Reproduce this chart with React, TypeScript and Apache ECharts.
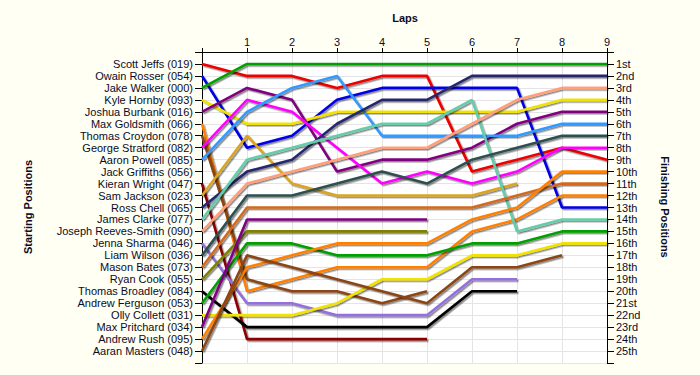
import React, { useEffect, useRef } from "react";
import * as echarts from "echarts";

const laps = [0, 1, 2, 3, 4, 5, 6, 7, 8, 9];

const drivers = [
  "Scott Jeffs (019)",
  "Owain Rosser (054)",
  "Jake Walker (000)",
  "Kyle Hornby (093)",
  "Joshua Burbank (016)",
  "Max Goldsmith (066)",
  "Thomas Croydon (078)",
  "George Stratford (082)",
  "Aaron Powell (085)",
  "Jack Griffiths (056)",
  "Kieran Wright (047)",
  "Sam Jackson (023)",
  "Ross Chell (065)",
  "James Clarke (077)",
  "Joseph Reeves-Smith (090)",
  "Jenna Sharma (046)",
  "Liam Wilson (036)",
  "Mason Bates (073)",
  "Ryan Cook (055)",
  "Thomas Broadley (084)",
  "Andrew Ferguson (053)",
  "Olly Collett (031)",
  "Max Pritchard (034)",
  "Andrew Rush (095)",
  "Aaran Masters (048)",
];

const finishLabels = [
  "1st", "2nd", "3rd", "4th", "5th", "6th", "7th", "8th", "9th", "10th",
  "11th", "12th", "13th", "14th", "15th", "16th", "17th", "18th", "19th", "20th",
  "21st", "22nd", "23rd", "24th", "25th",
];

// positions per lap (index = lap number)
const scottJeffs = [1, 2, 2, 3, 2, 2, 10, 9, 8, 9];
const owainRosser = [2, 8, 7, 4, 3, 3, 3, 3, 13, 13];
const jakeWalker = [3, 1, 1, 1, 1, 1, 1, 1, 1, 1];
const kyleHornby = [4, 6, 6, 5, 5, 5, 5, 5, 4, 4];
const joshuaBurbank = [5, 3, 4, 10, 9, 9, 8, 6, 5, 5];
const maxGoldsmith = [6, 20, 19, 18, 18, 18, 15, 14, 12, 12];
const thomasCroydon = [7, 19, 20, 20, 21, 20];
const georgeStratford = [8, 4, 5, 8, 11, 10, 11, 10, 8, 8];
const aaronPowell = [9, 5, 3, 2, 7, 7, 7, 7, 6, 6];
const jackGriffiths = [10];
const kieranWright = [11, 24, 24, 24, 24, 24];
const samJackson = [12, 7, 11, 12, 12, 12, 12, 11];
const rossChell = [13, 10, 9, 6, 4, 4, 2, 2, 2, 2];
const jamesClarke = [14, 9, 8, 7, 6, 6, 4, 15, 14, 14];
const josephReevesSmith = [15, 11, 10, 9, 8, 8, 6, 4, 3, 3];
const jennaSharma = [16, 21, 21, 22, 22, 22, 19, 19];
const liamWilson = [17, 12, 12, 11, 10, 11, 9, 8, 7, 7];
const masonBates = [18, 13, 13, 13, 13, 13, 13, 12, 11, 11];
const ryanCook = [19, 15, 15, 15, 15, 15];
const thomasBroadley = [20, 23, 23, 23, 23, 23, 20, 20];
const andrewFerguson = [21, 16, 16, 17, 17, 17, 16, 16, 15, 15];
const ollyCollett = [22, 22, 22, 21, 19, 19, 17, 17, 16, 16];
const maxPritchard = [23, 14, 14, 14, 14, 14];
const andrewRush = [24, 18, 17, 16, 16, 16, 14, 13, 10, 10];
const aaranMasters = [25, 17, 18, 19, 20, 21, 18, 18, 17];

const positionsByDriver = [
  scottJeffs, owainRosser, jakeWalker, kyleHornby, joshuaBurbank, maxGoldsmith,
  thomasCroydon, georgeStratford, aaronPowell, jackGriffiths, kieranWright,
  samJackson, rossChell, jamesClarke, josephReevesSmith, jennaSharma, liamWilson,
  masonBates, ryanCook, thomasBroadley, andrewFerguson, ollyCollett, maxPritchard,
  andrewRush, aaranMasters,
];

const colors = [
  "#ee0000", "#0000e6", "#00a000", "#f2e200", "#800080", "#ff8000",
  "#8b4513", "#ff00ff", "#3399ff", "#00cccc", "#8b0000", "#daa520",
  "#26266e", "#66cdaa", "#ffa07a", "#9370db", "#2f4f4f", "#d2691e",
  "#808000", "#000000", "#00a000", "#f2e200", "#800080", "#ff8000",
  "#8b4513",
];

const TEXT = "#0b0b26";
const FONT = "Arial, 'Liberation Sans', sans-serif";

export default function App() {
  const ref = useRef<HTMLDivElement>(null);

  useEffect(() => {
    if (!ref.current) return;
    const chart = echarts.init(ref.current, null, { renderer: "svg" });

    const series = positionsByDriver.map((pos, i) => ({
      name: drivers[i],
      type: "line",
      xAxisIndex: 0,
      yAxisIndex: 0,
      data: pos.map((p, lap) => [laps[lap], p]),
      showSymbol: false,
      symbol: "none",
      silent: true,
      lineStyle: {
        color: colors[i],
        width: 2.6,
        shadowColor: "rgba(0,0,0,0.45)",
        shadowBlur: 1.5,
        shadowOffsetX: 1.5,
        shadowOffsetY: 1.5,
      },
      z: 3,
    }));

    chart.setOption({
      animation: false,
      backgroundColor: "#fffff4",
      grid: {
        left: 202,
        right: 93,
        top: 52,
        bottom: 12,
        show: true,
        backgroundColor: "#ffffff",
        borderWidth: 0,
      },
      graphic: [
        {
          type: "text",
          x: 405,
          y: 18,
          style: {
            text: "Laps",
            font: `bold 11px ${FONT}`,
            fill: TEXT,
            textAlign: "center",
            textVerticalAlign: "middle",
          },
        },
        {
          type: "text",
          x: 28,
          y: 207,
          rotation: Math.PI / 2,
          style: {
            text: "Starting Positions",
            font: `bold 11px ${FONT}`,
            fill: TEXT,
            textAlign: "center",
            textVerticalAlign: "middle",
          },
        },
        {
          type: "text",
          x: 665,
          y: 207,
          rotation: -Math.PI / 2,
          style: {
            text: "Finishing Positions",
            font: `bold 11px ${FONT}`,
            fill: TEXT,
            textAlign: "center",
            textVerticalAlign: "middle",
          },
        },
      ],
      xAxis: {
        type: "value",
        position: "top",
        min: 0,
        max: 9,
        interval: 1,
        axisLine: { show: true, lineStyle: { color: "#000", width: 1 } },
        axisTick: { show: true, length: 4, lineStyle: { color: "#000" } },
        axisLabel: {
          margin: 5,
          color: TEXT,
          fontSize: 11,
          fontFamily: FONT,
          formatter: (v: number) => (v === 0 ? "" : String(v)),
        },
        splitLine: { show: true, lineStyle: { color: "#e4e4e4", width: 1 } },
      },
      yAxis: [
        {
          type: "value",
          position: "left",
          inverse: true,
          min: 0,
          max: 26,
          interval: 1,
          axisLine: { show: true, lineStyle: { color: "#000", width: 1 } },
          axisTick: { show: true, length: 7, lineStyle: { color: "#000" } },
          axisLabel: {
            margin: 9,
            color: TEXT,
            fontSize: 11,
            fontFamily: FONT,
            formatter: (v: number) => drivers[v - 1] ?? "",
          },
          splitLine: { show: true, lineStyle: { color: "#e4e4e4", width: 1 } },
        },
        {
          type: "value",
          position: "right",
          inverse: true,
          min: 0,
          max: 26,
          interval: 1,
          axisLine: { show: true, lineStyle: { color: "#000", width: 1 } },
          axisTick: { show: true, length: 7, lineStyle: { color: "#000" } },
          axisLabel: {
            margin: 9,
            color: TEXT,
            fontSize: 11,
            fontFamily: FONT,
            formatter: (v: number) => finishLabels[v - 1] ?? "",
          },
          splitLine: { show: false },
        },
      ],
      series,
    });

    return () => chart.dispose();
  }, []);

  return (
    <div
      ref={ref}
      style={{ position: "absolute", left: 0, top: 0, width: 700, height: 375 }}
    />
  );
}
